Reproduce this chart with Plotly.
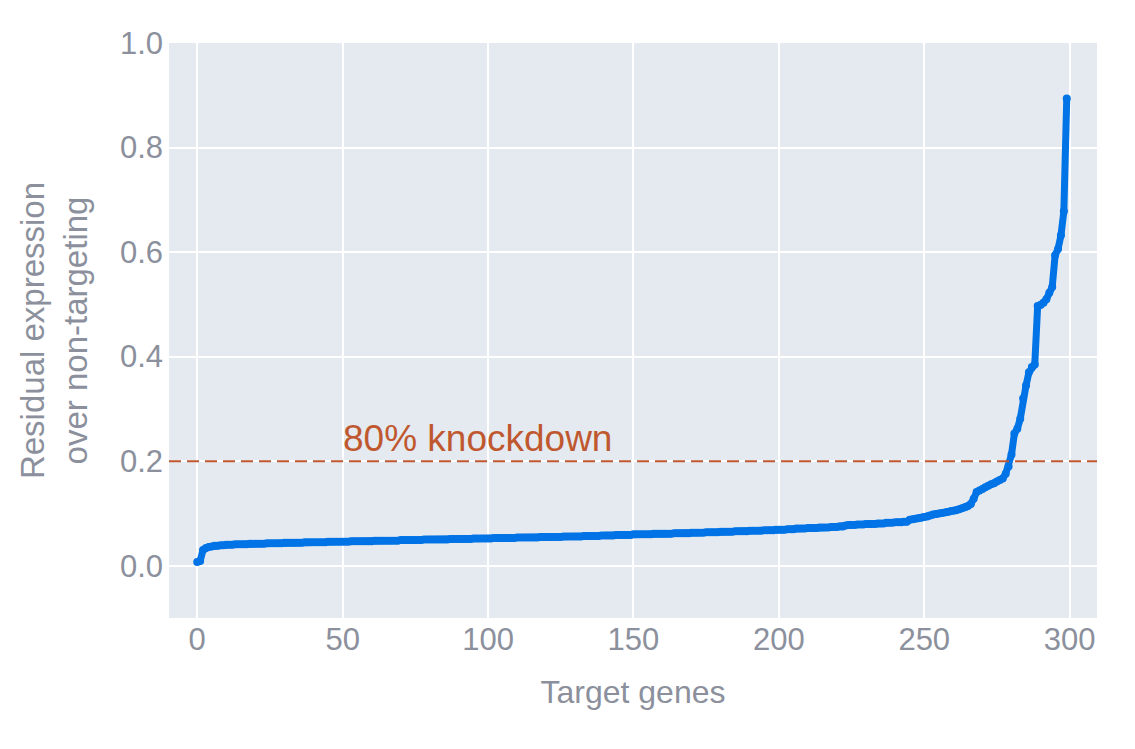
import plotly.graph_objects as go

genes = list(range(300))
residual = [
    0.007, 0.009, 0.030, 0.034, 0.036, 0.037, 0.038, 0.038, 0.039, 0.039,
    0.040, 0.040, 0.040, 0.041, 0.041, 0.041, 0.041, 0.041, 0.042, 0.042,
    0.042, 0.042, 0.042, 0.042, 0.043, 0.043, 0.043, 0.043, 0.043, 0.043,
    0.044, 0.044, 0.044, 0.044, 0.044, 0.044, 0.044, 0.045, 0.045, 0.045,
    0.045, 0.045, 0.045, 0.045, 0.045, 0.046, 0.046, 0.046, 0.046, 0.046,
    0.046, 0.046, 0.046, 0.047, 0.047, 0.047, 0.047, 0.047, 0.047, 0.047,
    0.047, 0.048, 0.048, 0.048, 0.048, 0.048, 0.048, 0.048, 0.048, 0.048,
    0.049, 0.049, 0.049, 0.049, 0.049, 0.049, 0.049, 0.049, 0.050, 0.050,
    0.050, 0.050, 0.050, 0.050, 0.050, 0.050, 0.050, 0.051, 0.051, 0.051,
    0.051, 0.051, 0.051, 0.051, 0.051, 0.052, 0.052, 0.052, 0.052, 0.052,
    0.052, 0.052, 0.053, 0.053, 0.053, 0.053, 0.053, 0.053, 0.053, 0.053,
    0.054, 0.054, 0.054, 0.054, 0.054, 0.054, 0.054, 0.054, 0.055, 0.055,
    0.055, 0.055, 0.055, 0.055, 0.055, 0.055, 0.056, 0.056, 0.056, 0.056,
    0.056, 0.056, 0.056, 0.057, 0.057, 0.057, 0.057, 0.057, 0.057, 0.058,
    0.058, 0.058, 0.058, 0.058, 0.059, 0.059, 0.059, 0.059, 0.059, 0.059,
    0.060, 0.060, 0.060, 0.060, 0.060, 0.060, 0.060, 0.061, 0.061, 0.061,
    0.061, 0.061, 0.061, 0.061, 0.062, 0.062, 0.062, 0.062, 0.062, 0.062,
    0.063, 0.063, 0.063, 0.063, 0.063, 0.064, 0.064, 0.064, 0.064, 0.064,
    0.065, 0.065, 0.065, 0.065, 0.065, 0.066, 0.066, 0.066, 0.066, 0.066,
    0.067, 0.067, 0.067, 0.067, 0.067, 0.068, 0.068, 0.068, 0.068, 0.069,
    0.069, 0.069, 0.069, 0.070, 0.070, 0.070, 0.071, 0.071, 0.071, 0.071,
    0.072, 0.072, 0.072, 0.072, 0.073, 0.073, 0.073, 0.073, 0.074, 0.074,
    0.074, 0.075, 0.075, 0.077, 0.078, 0.078, 0.078, 0.079, 0.079, 0.079,
    0.080, 0.080, 0.080, 0.080, 0.081, 0.081, 0.081, 0.082, 0.082, 0.082,
    0.083, 0.083, 0.083, 0.084, 0.084, 0.088, 0.089, 0.090, 0.091, 0.092,
    0.093, 0.094, 0.096, 0.098, 0.099, 0.100, 0.101, 0.102, 0.103, 0.104,
    0.105, 0.106, 0.108, 0.110, 0.112, 0.114, 0.118, 0.128, 0.141, 0.144,
    0.147, 0.150, 0.153, 0.156, 0.158, 0.161, 0.164, 0.167, 0.176, 0.190,
    0.213, 0.253, 0.262, 0.281, 0.320, 0.345, 0.370, 0.380, 0.385, 0.497,
    0.499, 0.503, 0.510, 0.522, 0.533, 0.594, 0.606, 0.632, 0.678, 0.894,
]
threshold = 0.2
threshold_label = "80% knockdown"
label_x = 50

font_family = "Liberation Sans, Arial, sans-serif"
grey = "#8b909c"
blue = "#0073e6"
rust = "#c0582f"

fig = go.Figure()
fig.add_trace(go.Scatter(
    x=genes, y=residual, mode="lines+markers",
    line=dict(color=blue, width=7),
    marker=dict(color=blue, size=8),
    showlegend=False,
))
fig.add_hline(y=threshold, line=dict(color=rust, width=2, dash="12px,6px"))
fig.add_annotation(
    x=label_x, y=threshold, xref="x", yref="y", text=threshold_label,
    showarrow=False, xanchor="left", yanchor="bottom", yshift=0, xshift=-2,
    font=dict(family=font_family, size=37, color=rust),
)
fig.update_layout(
    width=1135, height=749,
    template="plotly",
    margin=dict(l=161, r=46, t=35, b=139),
    font=dict(family=font_family, color=grey, size=31),
    plot_bgcolor="#e4eaef",
    paper_bgcolor="white",
)
fig.update_xaxes(
    range=[-9.7, 309.4], tickvals=[0, 50, 100, 150, 200, 250, 300],
    title=dict(text="Target genes", font=dict(size=32, color=grey), standoff=24),
    gridcolor="white", gridwidth=2, zerolinecolor="white", zerolinewidth=2,
    tickfont=dict(size=31, color=grey),
)
fig.update_yaxes(
    range=[-0.1, 1.0], tickvals=[0, 0.2, 0.4, 0.6, 0.8, 1.0], tickformat=".1f",
    title=dict(text="Residual expression<br>over non-targeting", font=dict(size=33, color=grey), standoff=22),
    gridcolor="white", gridwidth=2, zerolinecolor="white", zerolinewidth=2,
    tickfont=dict(size=31, color=grey), ticklabelstandoff=5,
)
fig.write_html("out.html")
